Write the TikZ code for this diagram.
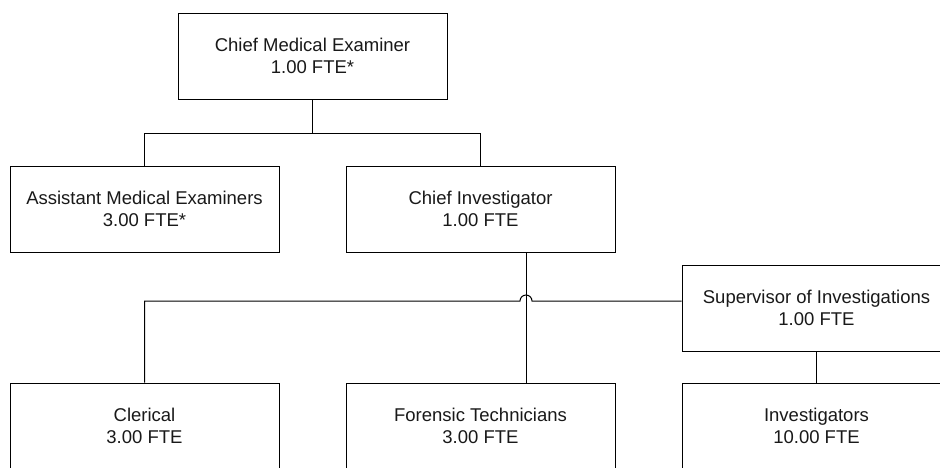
\documentclass[tikz,border=0pt]{standalone}
\usepackage{fontspec}
\setmainfont{Liberation Sans}
\usetikzlibrary{calc}
\begin{document}
\begin{tikzpicture}[x=1pt,y=1pt,
  unit/.style={draw=black, line width=1pt, minimum width=269pt, minimum height=86pt,
    inner sep=0pt, align=center, text=black!90,
    font=\fontsize{18.5}{22.3}\selectfont},
  link/.style={draw=black, line width=1pt}]
% page area
\fill[white] (0,0) rectangle (940,-467);
\useasboundingbox (0,0) rectangle (940,-467);
\clip (0,0) rectangle (940,-467);

% positions
\node[unit] (cme)  at (312.5,-56)  {Chief Medical Examiner\\1.00 FTE*};
\node[unit] (ame)  at (144.5,-209) {Assistant Medical Examiners\\3.00 FTE*};
\node[unit] (ci)   at (480.5,-209) {Chief Investigator\\1.00 FTE};
\node[unit] (sup)  at (816.5,-308) {Supervisor of Investigations\\1.00 FTE};
\node[unit] (cler) at (144.5,-426) {Clerical\\3.00 FTE};
\node[unit] (ft)   at (480.5,-426) {Forensic Technicians\\3.00 FTE};
\node[unit] (inv)  at (816.5,-426) {Investigators\\10.00 FTE};

% helper points
\coordinate (split) at ($(cme.south)+(0,-34)$);
\coordinate (cidrop) at ($(ci.south)+(45.5,0)$);
\coordinate (supout) at ($(sup.west)+(0,7)$);
\coordinate (jump) at (cidrop |- supout);

% connectors
\draw[link] (cme.south) -- (split) -| (ame.north);
\draw[link] (split) -| (ci.north);
\draw[link] (cidrop) -- (cidrop |- ft.north);
\draw[link] (supout) -- ($(jump)+(6,0)$)
  arc[start angle=0, end angle=180, radius=6]
  -- (cler.north |- jump) -- (cler.north);
\draw[link] (sup.south) -- (inv.north);
\end{tikzpicture}
\end{document}
